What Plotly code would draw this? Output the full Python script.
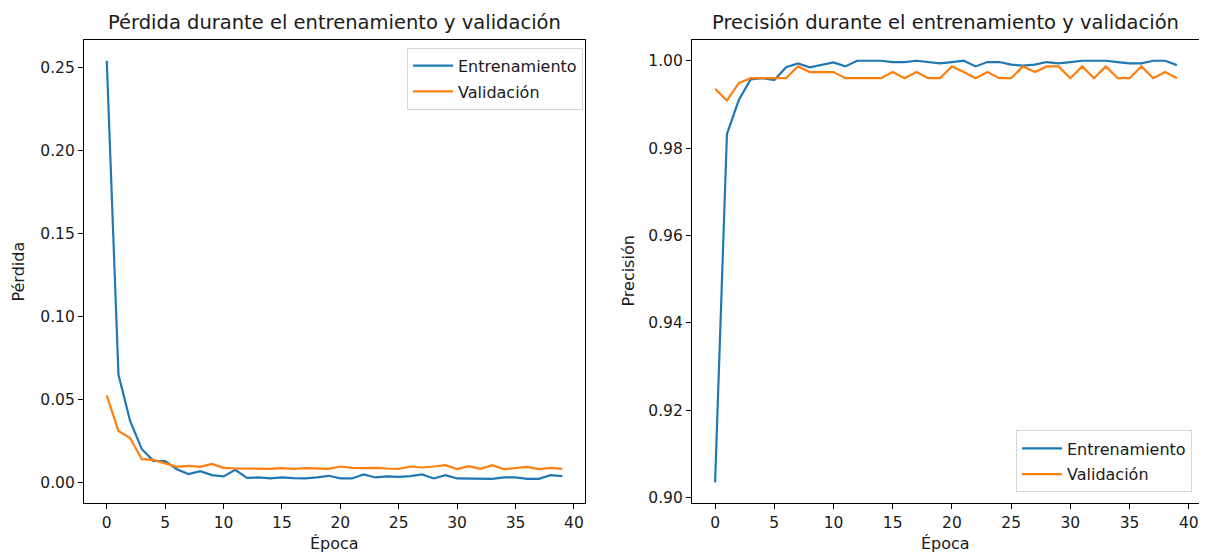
import plotly.graph_objects as go

epochs = list(range(40))

loss_train = [0.254, 0.065, 0.037, 0.020, 0.013, 0.0128, 0.008, 0.005, 0.0068, 0.0044,
              0.0036, 0.0076, 0.0028, 0.003, 0.0024, 0.003, 0.0026, 0.0024, 0.003, 0.004,
              0.0024, 0.0024, 0.0048, 0.003, 0.0036, 0.0034, 0.0038, 0.0048, 0.0024, 0.0044,
              0.0024, 0.0022, 0.002, 0.0022, 0.003, 0.003, 0.0022, 0.0022, 0.0044, 0.0038]
loss_val = [0.0524, 0.031, 0.0268, 0.014, 0.0136, 0.0114, 0.0094, 0.010, 0.0094, 0.0112,
            0.0088, 0.0084, 0.0082, 0.0082, 0.0082, 0.0086, 0.0082, 0.0086, 0.0084, 0.0082,
            0.0096, 0.0088, 0.0086, 0.0088, 0.0084, 0.0082, 0.0096, 0.009, 0.0096, 0.0104,
            0.008, 0.0098, 0.0082, 0.0104, 0.008, 0.0086, 0.0094, 0.008, 0.0088, 0.0082]

acc_train = [0.9035, 0.9832, 0.991, 0.9957, 0.996, 0.9956, 0.9985, 0.9994, 0.9985, 0.9991,
             0.9996, 0.9987, 1.0, 1.0, 1.0, 0.9997, 0.9997, 1.0, 0.9997, 0.9994,
             0.9997, 1.0, 0.9987, 0.9997, 0.9997, 0.9991, 0.9989, 0.9991, 0.9997, 0.9994,
             0.9997, 1.0, 1.0, 1.0, 0.9997, 0.9994, 0.9994, 1.0, 1.0, 0.999]
acc_val = [0.9936, 0.9909, 0.9949, 0.996, 0.996, 0.996, 0.996, 0.9987, 0.9974, 0.9974,
           0.9974, 0.996, 0.996, 0.996, 0.996, 0.9974, 0.996, 0.9974, 0.996, 0.996,
           0.9987, 0.9974, 0.996, 0.9974, 0.996, 0.996, 0.9987, 0.9974, 0.9987, 0.9987,
           0.996, 0.9987, 0.996, 0.9987, 0.996, 0.996, 0.9987, 0.996, 0.9974, 0.996]

x_ticks = [0, 5, 10, 15, 20, 25, 30, 35, 40]
loss_ticks = [0.00, 0.05, 0.10, 0.15, 0.20, 0.25]
acc_ticks = [0.90, 0.92, 0.94, 0.96, 0.98, 1.00]

titles = ["Pérdida durante el entrenamiento y validación",
          "Precisión durante el entrenamiento y validación"]
series_names = ["Entrenamiento", "Validación"]
colors = ["#1f77b4", "#ff7f0e"]

# The page body has an 8px margin; size the figure to fit the window.
OFF = 8
FW, FH = 1207 - OFF, 556 - OFF
FONT = "DejaVu Sans"
TXT = "#1a1a1a"


def px(x):
    return (x - OFF) / FW


def py(y):
    return 1 - (y - OFF) / FH


fig = go.Figure()

for i, (ys, name) in enumerate(zip([loss_train, loss_val], series_names)):
    fig.add_trace(go.Scatter(x=epochs, y=ys, mode="lines", name=name,
                             line=dict(color=colors[i], width=2.2),
                             xaxis="x", yaxis="y", legend="legend",
                             legendgroup="a%d" % i))
for i, (ys, name) in enumerate(zip([acc_train, acc_val], series_names)):
    fig.add_trace(go.Scatter(x=epochs, y=ys, mode="lines", name=name,
                             line=dict(color=colors[i], width=2.2),
                             xaxis="x2", yaxis="y2", legend="legend2",
                             legendgroup="b%d" % i))

dom_y = [py(507), py(40)]
dom_x1 = [px(84), px(585)]
dom_x2 = [px(692), px(1200)]

axis_common = dict(showline=True, linecolor="#000000", linewidth=1.2, mirror=True,
                   ticks="outside", ticklen=5, tickwidth=1.2, tickcolor="#000000",
                   showgrid=False, zeroline=False,
                   tickfont=dict(family=FONT, size=15.5, color=TXT))

legend_common = dict(bgcolor="rgba(255,255,255,0.8)", bordercolor="#d6d6d6", borderwidth=1,
                     font=dict(family=FONT, size=16, color=TXT),
                     tracegroupgap=2, itemwidth=40)

fig.update_layout(
    width=FW, height=FH, autosize=False,
    margin=dict(l=0, r=0, t=0, b=0),
    paper_bgcolor="white", plot_bgcolor="white",
    font=dict(family=FONT, color=TXT),
    xaxis=dict(domain=dom_x1, anchor="y", range=[-1.95, 40.95],
               tickvals=x_ticks, **axis_common),
    yaxis=dict(domain=dom_y, anchor="x", range=[-0.0126, 0.2666],
               tickvals=loss_ticks, tickformat=".2f", **axis_common),
    xaxis2=dict(domain=dom_x2, anchor="y2", range=[-1.95, 40.95],
                tickvals=x_ticks, **axis_common),
    yaxis2=dict(domain=dom_y, anchor="x2", range=[0.8987, 1.0048],
                tickvals=acc_ticks, tickformat=".2f", **axis_common),
    legend=dict(x=px(583), y=py(48), xanchor="right", yanchor="top", **legend_common),
    legend2=dict(x=px(1192), y=py(496), xanchor="right", yanchor="bottom", **legend_common),
    showlegend=True,
)

annos = []
for t, dx in zip(titles, [dom_x1, dom_x2]):
    annos.append(dict(text=t, x=(dx[0] + dx[1]) / 2, y=py(23), xref="paper", yref="paper",
                      xanchor="center", yanchor="middle", showarrow=False,
                      font=dict(family=FONT, size=19.5, color=TXT)))
    annos.append(dict(text="Época", x=(dx[0] + dx[1]) / 2, y=py(547), xref="paper", yref="paper",
                      xanchor="center", yanchor="middle", showarrow=False,
                      font=dict(family=FONT, size=16, color=TXT)))
annos.append(dict(text="Pérdida", x=px(19), y=(dom_y[0] + dom_y[1]) / 2, xref="paper", yref="paper",
                  xanchor="center", yanchor="middle", showarrow=False, textangle=-90,
                  font=dict(family=FONT, size=16, color=TXT)))
annos.append(dict(text="Precisión", x=px(629), y=(dom_y[0] + dom_y[1]) / 2, xref="paper", yref="paper",
                  xanchor="center", yanchor="middle", showarrow=False, textangle=-90,
                  font=dict(family=FONT, size=16, color=TXT)))
fig.update_layout(annotations=annos)

fig.write_html("out.html")
